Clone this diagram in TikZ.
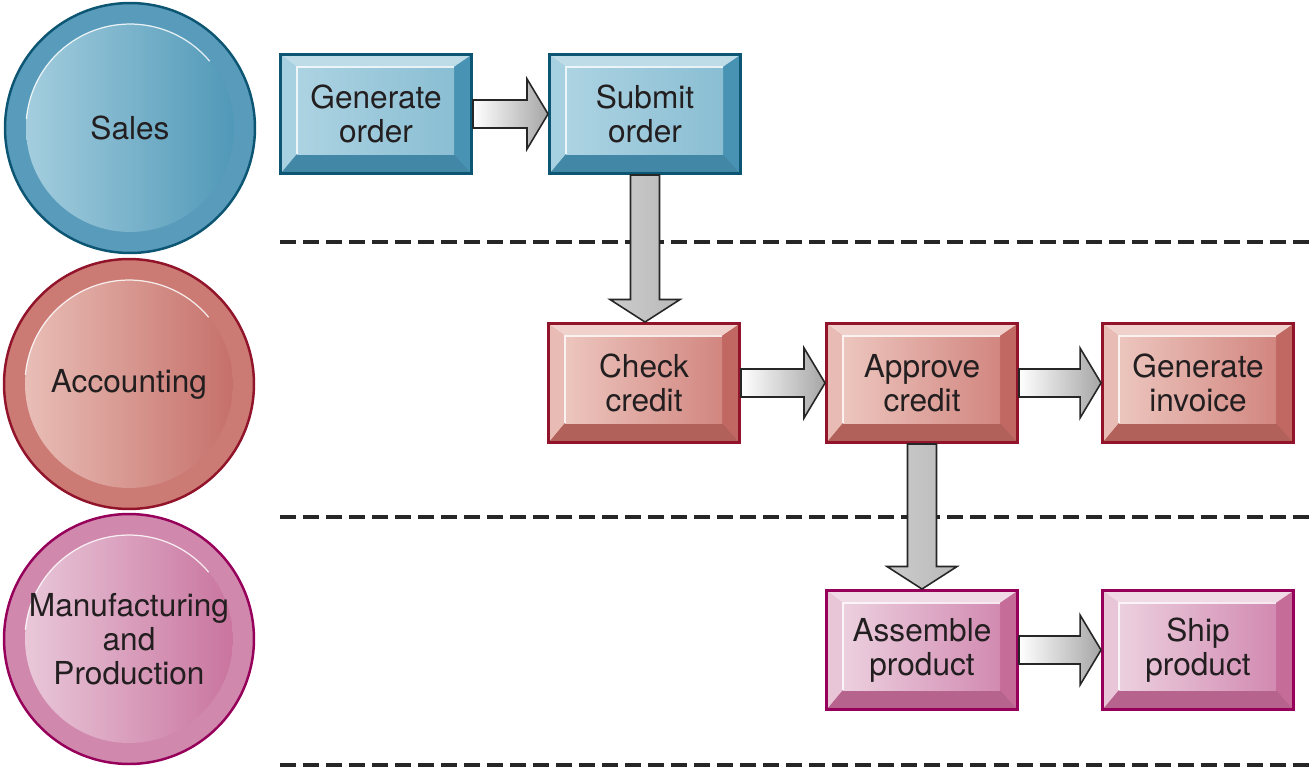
\documentclass[tikz,border=0pt]{standalone}
\usepackage{fontspec}
\setmainfont{TeX Gyre Heros}
\usetikzlibrary{calc}
\definecolor{tinta}{RGB}{35,31,32}
\definecolor{azulborda}{RGB}{12,85,115}
\definecolor{azulanel}{RGB}{88,155,186}
\definecolor{azulclaro}{RGB}{172,211,226}
\definecolor{azulmeio}{RGB}{138,190,211}
\definecolor{azulescuro}{RGB}{72,147,180}
\definecolor{vermborda}{RGB}{145,20,42}
\definecolor{vermanel}{RGB}{203,122,116}
\definecolor{vermclaro}{RGB}{236,198,190}
\definecolor{vermmeio}{RGB}{210,134,128}
\definecolor{vermescuro}{RGB}{194,104,98}
\definecolor{rosaborda}{RGB}{150,0,90}
\definecolor{rosaanel}{RGB}{208,136,173}
\definecolor{rosaclaro}{RGB}{236,208,223}
\definecolor{rosameio}{RGB}{210,138,177}
\definecolor{rosaescuro}{RGB}{198,108,153}

\begin{document}
\begin{tikzpicture}[x=0.02cm, y=-0.02cm,
    texto/.style={font=\fontsize{18}{19.3}\selectfont, text=tinta, align=center},
    circulo/.style={circle, texto, draw=#1borda, line width=1.4pt, minimum size=5cm,
      inner sep=0pt, fill=#1anel,
      path picture={
        \shade[left color=#1claro, right color=#1escuro]
          (path picture bounding box.center) circle (2.08cm);
        \draw[white, opacity=0.85, line width=0.7pt]
          ($(path picture bounding box.center)+(40:2.08cm)$)
          arc[start angle=40, end angle=175, radius=2.08cm];
      }},
    caixa/.style={rectangle, texto, draw=#1borda, line width=1.7pt,
      minimum width=3.82cm, minimum height=2.38cm, inner sep=0pt, fill=#1meio,
      path picture={
        \coordinate (a1) at ($(path picture bounding box.south west)+(0.8pt,0.8pt)$);
        \coordinate (a2) at ($(path picture bounding box.north east)+(-0.8pt,-0.8pt)$);
        \coordinate (b1) at ($(a1)+(0.3cm,0.36cm)$);
        \coordinate (b2) at ($(a2)+(-0.32cm,-0.22cm)$);
        % chanfros
        \fill[#1claro!80!white] (a1 |- a2) -- (a2) -- (b2) -- (b1 |- b2) -- cycle;
        \fill[#1claro!85!#1meio] (a1) -- (a1 |- a2) -- (b1 |- b2) -- (b1) -- cycle;
        \fill[#1escuro] (a2 |- a1) -- (a2) -- (b2) -- (b2 |- b1) -- cycle;
        \fill[#1escuro!92!black] (a1) -- (a2 |- a1) -- (b2 |- b1) -- (b1) -- cycle;
        % face
        \shade[left color=#1claro, right color=#1meio] (b1) rectangle (b2);
        \draw[white, opacity=0.8, line width=0.7pt] (b1) -- (b1 |- b2) -- (b2);
      }},
    seta/.style={draw=black!85, line width=0.9pt, line join=miter,
      left color=white, right color=gray!70},
    setav/.style={draw=black!85, line width=0.9pt, line join=miter,
      left color=gray!40, middle color=gray!8, right color=gray!55},
    divisoria/.style={line width=2.3pt, black!85, dash pattern=on 9.1pt off 4pt}]

    \useasboundingbox (0,0) rectangle (1315,768);

    % Divisorias
    \draw[divisoria] (280,242) -- (1315,242);
    \draw[divisoria] (280,517) -- (1315,517);
    \draw[divisoria] (280,765) -- (1315,765);

    % Departamentos
    \node[circulo=azul] (vendas) at (130,128) {Sales};
    \node[circulo=verm] (contab) at (129,384) {Accounting};
    \node[circulo=rosa] (fabric) at (129,639) {Manufacturing\\and\\Production};

    % Etapas
    \node[caixa=azul] (ord) at (376,114) {Generate\\order};
    \node[caixa=azul] (sub) at (645,114) {Submit\\order};
    \node[caixa=verm] (cred) at (644,383) {Check\\credit};
    \node[caixa=verm] (aprv) at (922,383) {Approve\\credit};
    \node[caixa=verm] (fat) at (1198,383) {Generate\\invoice};
    \node[caixa=rosa] (mont) at (922,650) {Assemble\\product};
    \node[caixa=rosa] (env) at (1198,650) {Ship\\product};

    % Setas horizontais
    \path[seta] let \p1=(ord.east), \p2=(sub.west) in (\x1,\y1+0.28cm) -- (\x2-0.42cm,\y1+0.28cm) -- (\x2-0.42cm,\y1+0.7cm) -- (\x2,\y1) -- (\x2-0.42cm,\y1-0.7cm) -- (\x2-0.42cm,\y1-0.28cm) -- (\x1,\y1-0.28cm) -- cycle;
    \path[seta] let \p1=(cred.east), \p2=(aprv.west) in (\x1,\y1+0.28cm) -- (\x2-0.42cm,\y1+0.28cm) -- (\x2-0.42cm,\y1+0.7cm) -- (\x2,\y1) -- (\x2-0.42cm,\y1-0.7cm) -- (\x2-0.42cm,\y1-0.28cm) -- (\x1,\y1-0.28cm) -- cycle;
    \path[seta] let \p1=(aprv.east), \p2=(fat.west) in (\x1,\y1+0.28cm) -- (\x2-0.42cm,\y1+0.28cm) -- (\x2-0.42cm,\y1+0.7cm) -- (\x2,\y1) -- (\x2-0.42cm,\y1-0.7cm) -- (\x2-0.42cm,\y1-0.28cm) -- (\x1,\y1-0.28cm) -- cycle;
    \path[seta] let \p1=(mont.east), \p2=(env.west) in (\x1,\y1+0.28cm) -- (\x2-0.42cm,\y1+0.28cm) -- (\x2-0.42cm,\y1+0.7cm) -- (\x2,\y1) -- (\x2-0.42cm,\y1-0.7cm) -- (\x2-0.42cm,\y1-0.28cm) -- (\x1,\y1-0.28cm) -- cycle;

    % Setas verticais
    \path[setav] let \p1=(sub.south), \p2=(cred.north) in (\x1-0.29cm,\y1) -- (\x1-0.29cm,\y2+0.45cm) -- (\x1-0.7cm,\y2+0.45cm) -- (\x1,\y2) -- (\x1+0.7cm,\y2+0.45cm) -- (\x1+0.29cm,\y2+0.45cm) -- (\x1+0.29cm,\y1) -- cycle;
    \path[setav] let \p1=(aprv.south), \p2=(mont.north) in (\x1-0.29cm,\y1) -- (\x1-0.29cm,\y2+0.45cm) -- (\x1-0.7cm,\y2+0.45cm) -- (\x1,\y2) -- (\x1+0.7cm,\y2+0.45cm) -- (\x1+0.29cm,\y2+0.45cm) -- (\x1+0.29cm,\y1) -- cycle;
\end{tikzpicture}
\end{document}
